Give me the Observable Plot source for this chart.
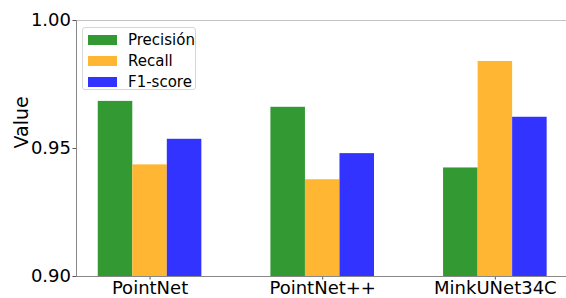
<!DOCTYPE html>
<html>
<head>
<meta charset="utf-8">
<script src="https://cdn.jsdelivr.net/npm/d3@7"></script>
<script src="https://cdn.jsdelivr.net/npm/@observablehq/plot@0.6"></script>
<style>
  html, body { margin: 0; padding: 0; background: #fff; }
  #wrap { position: relative; width: 566px; height: 298px; font-family: "DejaVu Sans", sans-serif; }
  #legend { position: absolute; left: 82px; top: 27px; width: 114px; height: 63px; box-sizing: border-box;
    border: 1px solid #d6d6d6; border-radius: 3px; background: rgba(255,255,255,0.8); }
  .row { position: absolute; left: 5px; height: 21px; display: flex; align-items: center; font-size: 15px; color: #000; }
  .sw { width: 29px; height: 10px; margin-right: 11px; }
</style>
</head>
<body>
<div id="wrap"><div id="legend"></div></div>
<script>
const models = ["PointNet", "PointNet++", "MinkUNet34C"];
const metrics = ["Precisión", "Recall", "F1-score"];
const precision = [0.9684, 0.9661, 0.9424];
const recall = [0.9436, 0.9378, 0.9840];
const f1 = [0.9536, 0.9480, 0.9622];
const colors = ["#339933", "#ffb733", "#3333ff"];
const yTicks = [0.90, 0.95, 1.00];

const series = [precision, recall, f1];
const barWidth = 0.2;
const data = [];
models.forEach((m, i) => {
  metrics.forEach((k, j) => {
    const c = i + (j - 1) * barWidth;
    data.push({model: m, metric: k, x1: c - barWidth / 2, x2: c + barWidth / 2, value: series[j][i]});
  });
});

const chart = Plot.plot({
  width: 566,
  height: 298,
  marginLeft: 76,
  marginRight: 0,
  marginTop: 20,
  marginBottom: 22,
  style: {fontFamily: "DejaVu Sans, sans-serif", color: "#000", background: "transparent"},
  x: {type: "linear", domain: [-0.426, 2.412]},
  y: {domain: [0.90, 1.00]},
  color: {domain: metrics, range: colors},
  marks: [
    Plot.rectY(data, {x1: "x1", x2: "x2", y1: 0.90, y2: "value", fill: "metric", clip: true}),
    Plot.ruleY([yTicks[yTicks.length - 1]], {stroke: "#c4c4c4", strokeWidth: 1}),
    Plot.axisY({ticks: yTicks, tickFormat: d3.format(".2f"), tickSize: 3.5, tickPadding: 2,
      fontSize: 18, stroke: "#555", label: null}),
    Plot.axisX({ticks: models.map((_, i) => i), tickFormat: i => models[i], tickSize: 3.5, tickPadding: 1,
      fontSize: 18, stroke: "#555", label: null}),
    Plot.ruleX([-0.426], {stroke: "#888"}),
    Plot.ruleY([yTicks[0]], {stroke: "#888"}),
    Plot.text(["Value"], {frameAnchor: "left", rotate: -90, dx: -55, fontSize: 19, fill: "#000"})
  ]
});
document.getElementById("wrap").prepend(chart);
chart.style.position = "absolute"; chart.style.left = "0"; chart.style.top = "0";

const legend = document.getElementById("legend");
metrics.forEach((k, j) => {
  const row = document.createElement("div");
  row.className = "row";
  row.style.top = (1 + j * 21) + "px";
  const sw = document.createElement("div");
  sw.className = "sw"; sw.style.background = colors[j];
  const t = document.createElement("span"); t.textContent = k;
  row.appendChild(sw); row.appendChild(t);
  legend.appendChild(row);
});
</script>
</body>
</html>
